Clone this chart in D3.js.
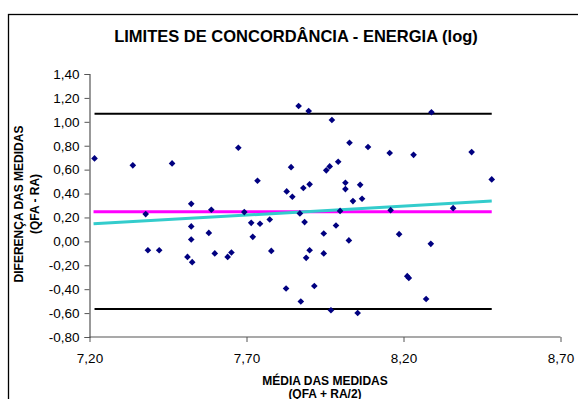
<!DOCTYPE html>
<html>
<head>
<meta charset="utf-8">
<script src="https://cdn.jsdelivr.net/npm/d3@7"></script>
<style>
  body { margin: 0; background: #fff; }
  text { font-family: Arial, "Liberation Sans", sans-serif; }
</style>
</head>
<body>
<div id="graph"></div>
<script>
// media das medidas (x) e diferenca (y)
var media = [7.216, 7.338, 7.463, 7.379, 7.386, 7.422, 7.524, 7.524, 7.524, 7.512,
  7.527, 7.588, 7.580, 7.599, 7.640, 7.652, 7.674, 7.693, 7.715, 7.743,
  7.720, 7.735, 7.774, 7.779, 7.828, 7.842, 7.846, 7.826, 7.866, 7.898,
  7.881, 7.901, 7.870, 7.885, 7.901, 7.890, 7.916, 7.873, 7.946, 7.946,
  7.954, 7.965, 7.969, 7.972, 8.289, 8.028, 8.087, 8.156, 8.232, 8.417,
  7.992, 8.015, 8.015, 8.062, 8.039, 8.068, 8.481, 8.358, 8.159, 7.998,
  7.985, 8.186, 8.026, 8.287, 8.212, 8.217, 8.272, 8.054]
var diferenca = [0.694, 0.636, 0.652, 0.228, -0.074, -0.074, 0.314, 0.125, 0.016, -0.130,
  -0.174, 0.264, 0.071, -0.101, -0.130, -0.093, 0.783, 0.245, 0.155, 0.147,
  0.038, 0.507, 0.183, -0.080, 0.418, 0.621, 0.373, -0.394, 1.132, 1.090,
  0.446, 0.477, 0.234, 0.161, -0.074, -0.138, -0.373, -0.503, 0.066, -0.101,
  0.594, 0.627, -0.576, 1.015, 1.080, 0.825, 0.789, 0.739, 0.724, 0.747,
  0.666, 0.490, 0.437, 0.473, 0.337, 0.356, 0.518, 0.278, 0.261, 0.255,
  0.133, 0.060, 0.008, -0.021, -0.291, -0.306, -0.482, -0.599]

// limites: media, limite superior, limite inferior
var limites = [0.247, 1.068, -0.566]
// linha de tendencia (valores nos extremos de x)
var tendencia = [0.147, 0.337]

var xTicks = [7.20, 7.70, 8.20, 8.70]
var yTicks = [-0.80, -0.60, -0.40, -0.20, 0.00, 0.20, 0.40, 0.60, 0.80, 1.00, 1.20, 1.40]

var width = 578, height = 399
var margin = {left: 89.5, right: 17.5, top: 74, bottom: 62}

var svg = d3.select('#graph').append('svg')
    .attr('width', width)
    .attr('height', height)

svg.append('rect')
    .attr('width', width).attr('height', height)
    .attr('fill', '#fff')

// borda do grafico
svg.append('rect')
    .attr('x', 8.5).attr('y', 14.5)
    .attr('width', 700).attr('height', 500)
    .attr('fill', 'none').attr('stroke', '#000').attr('stroke-width', 1.3)

var x = d3.scaleLinear().domain([7.2, 8.7]).range([margin.left, width - margin.right])
var y = d3.scaleLinear().domain([-0.8, 1.4]).range([height - margin.bottom, margin.top])

var fmt = function(v){ return d3.format('.2f')(v).replace('.', ',').replace('−', '-') }

var gx = svg.append('g')
    .attr('transform', 'translate(0,' + y(-0.8) + ')')
    .call(d3.axisBottom(x).tickValues(xTicks).tickFormat(fmt).tickSize(5).tickPadding(11))
var gy = svg.append('g')
    .attr('transform', 'translate(' + x(7.2) + ',0)')
    .call(d3.axisLeft(y).tickValues(yTicks).tickFormat(fmt).tickSize(5).tickPadding(5))

svg.selectAll('.domain').attr('stroke', '#555').attr('stroke-width', 1.2)
svg.selectAll('.tick line').attr('stroke', '#555')
svg.selectAll('.tick text')
    .attr('fill', '#000')
    .style('font-size', '13.5px')
    .style('font-family', 'Arial, "Liberation Sans", sans-serif')
gx.selectAll('.domain').attr('d', 'M' + x(7.2) + ',0H' + x(8.7))

var xExt = d3.extent(media)

// limites de concordancia
svg.selectAll('.limite')
  .data(limites.slice(1))
  .join('line')
    .attr('x1', x(xExt[0])).attr('x2', x(xExt[1]))
    .attr('y1', function(d){ return y(d) }).attr('y2', function(d){ return y(d) })
    .attr('stroke', '#000').attr('stroke-width', 2)

svg.append('line')
    .attr('x1', x(xExt[0]) - 1).attr('x2', x(xExt[1]))
    .attr('y1', y(limites[0])).attr('y2', y(limites[0]))
    .attr('stroke', '#ff00ff').attr('stroke-width', 3)

svg.append('line')
    .attr('x1', x(xExt[0]) - 1).attr('x2', x(xExt[1]))
    .attr('y1', y(tendencia[0])).attr('y2', y(tendencia[1]))
    .attr('stroke', '#33cccc').attr('stroke-width', 3)

// pontos
svg.append('g').selectAll('path')
  .data(media.map(function(m, i){ return [m, diferenca[i]] }))
  .join('path')
    .attr('d', d3.symbol(d3.symbolSquare, 22))
    .attr('transform', function(d){ return 'translate(' + x(d[0]) + ',' + y(d[1]) + ') rotate(45)' })
    .attr('fill', '#000080')

// titulos
svg.append('text')
    .attr('x', 296).attr('y', 41.5)
    .attr('text-anchor', 'middle')
    .style('font-size', '16.5px').style('font-weight', 'bold')
    .text('LIMITES DE CONCORDÂNCIA - ENERGIA (log)')

svg.append('text')
    .attr('x', 325).attr('y', 385)
    .attr('text-anchor', 'middle')
    .style('font-size', '12px').style('font-weight', 'bold')
    .text('MÉDIA DAS MEDIDAS')
svg.append('text')
    .attr('x', 325).attr('y', 398)
    .attr('text-anchor', 'middle')
    .style('font-size', '12px').style('font-weight', 'bold')
    .text('(QFA + RA/2)')

var yt = svg.append('text')
    .attr('transform', 'translate(22.5,204) rotate(-90)')
    .attr('text-anchor', 'middle')
    .style('font-size', '12px').style('font-weight', 'bold')
yt.append('tspan').attr('x', 0).attr('y', 0).text('DIFERENÇA DAS MEDIDAS')
yt.append('tspan').attr('x', 0).attr('y', 16).text('(QFA - RA)')
</script>
</body>
</html>
